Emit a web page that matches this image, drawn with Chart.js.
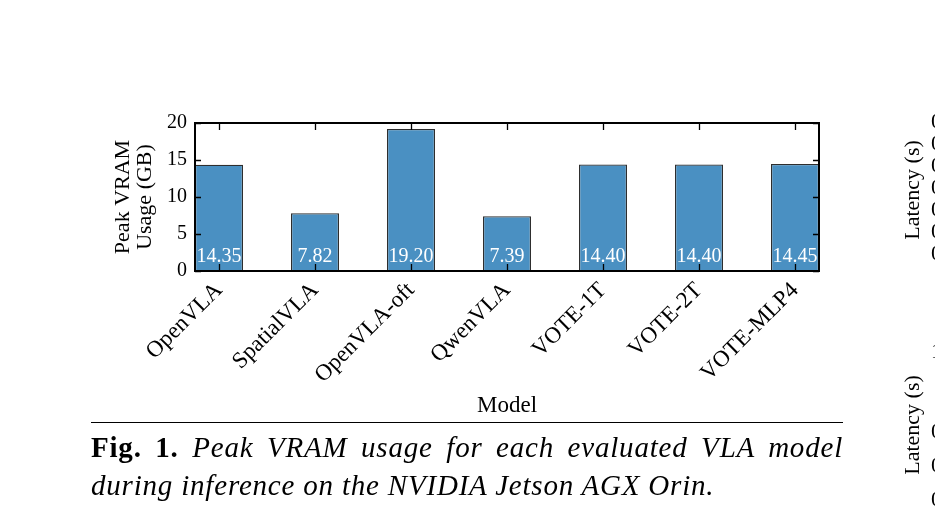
<!DOCTYPE html>
<html>
<head>
<meta charset="utf-8">
<title>Peak VRAM usage</title>
<script src="https://cdn.jsdelivr.net/npm/chart.js@4.4.1/dist/chart.umd.min.js"></script>
<style>
  html, body { margin: 0; padding: 0; background: #fff; }
  body {
    width: 935px; height: 528px; position: relative; overflow: hidden;
    font-family: 'Liberation Serif', 'Times New Roman', serif; color: #000;
  }
  #wrap { position: absolute; left: 0; top: 0; width: 935px; height: 528px; }
  .rule { position: absolute; left: 91px; top: 422px; width: 752px; border-top: 1px solid #000; }
  .cap {
    position: absolute; left: 91px; width: 752px; white-space: nowrap;
    font-size: 29px; line-height: 38px; letter-spacing: 0.8px; font-style: italic;
  }
  .cap b { font-style: normal; }
  .cap.l1 { top: 428px; text-align: justify; text-align-last: justify; white-space: normal; }
  .cap.l2 { top: 466px; }
  .side {
    position: absolute; font-size: 22px; white-space: nowrap;
    transform: translate(-50%, -50%) rotate(-90deg);
  }
  .frag { position: absolute; left: 931px; font-size: 22px; line-height: 22px; }
</style>
</head>
<body>
<div id="wrap"><canvas id="vramChart"></canvas></div>
<div class="rule"></div>
<div class="cap l1"><b>Fig. 1.</b> Peak VRAM usage for each evaluated VLA model</div>
<div class="cap l2">during inference on the NVIDIA Jetson AGX Orin.</div>

<!-- neighbouring figure, cut off by the page edge -->
<div class="side" style="left:912px; top:190px;">Latency (s)</div>
<div class="side" style="left:912px; top:425px;">Latency (s)</div>
<div class="frag" style="top:110px;">0</div>
<div class="frag" style="top:132px;">0</div>
<div class="frag" style="top:154px;">0</div>
<div class="frag" style="top:176px;">0</div>
<div class="frag" style="top:198px;">0</div>
<div class="frag" style="top:220px;">0</div>
<div class="frag" style="top:242px;">0</div>
<div class="frag" style="top:340px;">1</div>
<div class="frag" style="top:420px;">0</div>
<div class="frag" style="top:454px;">0</div>
<div class="frag" style="top:488px;">0</div>

<script>
// ===================== DATA =====================
const categories = ['OpenVLA', 'SpatialVLA', 'OpenVLA-oft', 'QwenVLA', 'VOTE-1T', 'VOTE-2T', 'VOTE-MLP4'];
const vramValues = [14.35, 7.82, 19.20, 7.39, 14.40, 14.40, 14.45];
const yTicks = [0, 5, 10, 15, 20];

const SERIF = "'Liberation Serif', 'Times New Roman', serif";
const BAR_FILL = '#4a90c2';
const BAR_EDGE = '#2e2e2e';

Chart.defaults.font.family = SERIF;
Chart.defaults.color = '#000';

// white value labels near the foot of every bar
const barLabels = {
  id: 'barLabels',
  afterDatasetsDraw(chart) {
    const ctx = chart.ctx;
    ctx.save();
    ctx.fillStyle = '#fff';
    ctx.font = `20px ${SERIF}`;
    ctx.textAlign = 'center';
    ctx.textBaseline = 'middle';
    chart.getDatasetMeta(0).data.forEach((bar, i) => {
      ctx.fillText(vramValues[i].toFixed(2), bar.x, bar.base - 14);
    });
    ctx.restore();
  }
};

// matplotlib-classic look: closed frame with ticks pointing inward on all sides
const frameTicks = {
  id: 'frameTicks',
  afterDraw(chart) {
    const { ctx, chartArea: a, scales: { x, y } } = chart;
    ctx.save();
    ctx.strokeStyle = '#000';
    ctx.lineWidth = 1.3;
    ctx.beginPath();
    x.ticks.forEach(t => {
      const px = Math.round(x.getPixelForValue(t.value)) + 0.5;
      ctx.moveTo(px, a.bottom); ctx.lineTo(px, a.bottom - 7);
      ctx.moveTo(px, a.top); ctx.lineTo(px, a.top + 7);
    });
    y.ticks.forEach(t => {
      const py = Math.round(y.getPixelForValue(t.value)) + 0.5;
      ctx.moveTo(a.left, py); ctx.lineTo(a.left + 6, py);
      ctx.moveTo(a.right, py); ctx.lineTo(a.right - 6, py);
    });
    ctx.stroke();
    ctx.lineWidth = 2;
    ctx.strokeRect(a.left, a.top, a.right - a.left, a.bottom - a.top);
    ctx.restore();
  }
};

function initChart() {
  const ctx = document.getElementById('vramChart').getContext('2d');
  new Chart(ctx, {
    type: 'bar',
    data: {
      datasets: [{
        data: categories.map((c, i) => ({ x: i, y: vramValues[i] })),
        backgroundColor: BAR_FILL,
        borderColor: BAR_EDGE,
        borderWidth: 1.3,
        borderSkipped: 'bottom',
        barPercentage: 0.5,
        categoryPercentage: 1.0,
      }]
    },
    options: {
      responsive: true,
      maintainAspectRatio: false,
      animation: false,
      devicePixelRatio: 1,
      layout: { padding: { left: 112, top: 123, right: 116, bottom: 104 } },
      plugins: { legend: { display: false }, tooltip: { enabled: false } },
      scales: {
        x: {
          type: 'linear',
          min: -0.25,
          max: categories.length - 0.75,
          offset: false,
          grid: { display: false, drawTicks: false },
          border: { display: false },
          afterBuildTicks: s => { s.ticks = categories.map((c, i) => ({ value: i })); },
          afterFit: s => { s.height = 153; },
          ticks: {
            autoSkip: false,
            minRotation: 45,
            maxRotation: 45,
            padding: 6,
            font: { size: 23 },
            callback: (v, i) => categories[i],
          },
          title: { display: true, text: 'Model', font: { size: 23 }, padding: { top: 0, bottom: 4 } },
        },
        y: {
          min: 0,
          max: 20,
          grid: { display: false, drawTicks: false },
          border: { display: false },
          afterBuildTicks: s => { s.ticks = yTicks.map(v => ({ value: v })); },
          afterFit: s => { s.width = 83; },
          ticks: { padding: 8, font: { size: 20 } },
          title: {
            display: true,
            text: ['Peak VRAM', 'Usage (GB)'],
            font: { size: 22, lineHeight: 1.0 },
            padding: { top: 0, bottom: 0 },
          },
        }
      }
    },
    plugins: [barLabels, frameTicks],
  });
}

document.addEventListener('DOMContentLoaded', initChart);
</script>
</body>
</html>
